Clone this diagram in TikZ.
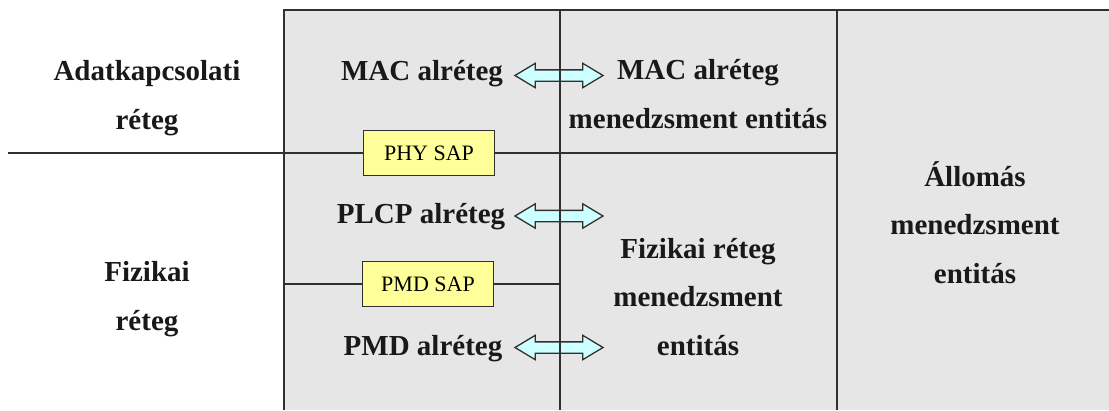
\documentclass[tikz,border=0pt]{standalone}
\usepackage{fontspec}
\setmainfont{Liberation Serif}
\usepackage{xcolor}
\usetikzlibrary{positioning,shapes.arrows}

\definecolor{cellgray}{HTML}{E6E6E6}
\definecolor{sapyellow}{HTML}{FFFF99}
\definecolor{arrowcyan}{HTML}{CCFFFF}
\definecolor{linegray}{HTML}{303030}

\begin{document}
\begin{tikzpicture}[
    x=1pt, y=-1pt,
    grid/.style={draw=linegray, line width=1.4pt},
    label/.style={align=center, anchor=base, text=black!90, font=\fontsize{29}{48.5}\selectfont\bfseries, inner sep=0pt},
    sapbox/.style={rectangle, draw=linegray, line width=1.6pt, fill=sapyellow, minimum width=131pt, minimum height=45pt, font=\fontsize{22}{24}\selectfont, inner sep=0pt},
    duplex/.style={double arrow, draw=linegray, line width=1.3pt, fill=arrowcyan, minimum height=88pt, inner xsep=0pt, inner ysep=5pt, double arrow head extend=6.5pt, double arrow tip angle=62}
]
\useasboundingbox (0,0) rectangle (1109,410);

% Shaded table
\fill[cellgray] (284,10) rectangle (1109,410);

% Layer names (base = last line)
\node[label] (datalink) at (147,129) {Adatkapcsolati\\réteg};
\node[label] (physical) at (147,330) {Fizikai\\réteg};

% Sublayers
\node[label] (mac) at (422,80) {MAC alréteg};
\node[label] (plcp) at (421,223) {PLCP alréteg};
\node[label] (pmd) at (423,355) {PMD alréteg};

% Management entities
\node[label] (macmgmt) at (698,128) {MAC alréteg\\menedzsment entitás};
\node[label] (phymgmt) at (698,355) {Fizikai réteg\\menedzsment\\entitás};
\node[label] (stamgmt) at (975,283) {Állomás\\menedzsment\\entitás};

% Sublayer <-> management arrows
\node[duplex] (macarrow) at (559,75.5) {};
\node[duplex] (plcparrow) at (559,216) {};
\node[duplex] (pmdarrow) at (559,347.5) {};

% Service access points
\node[sapbox] (physap) at (429,153) {PHY SAP};
\node[sapbox] (pmdsap) at (428,284) {PMD SAP};

% Table lines
\coordinate (topright) at (1109,10);
\coordinate (topleft) at (284,10);
\coordinate (botleft) at (284,410);
\coordinate (midtop) at (560,10);
\coordinate (midbot) at (560,410);
\coordinate (rtop) at (837,10);
\coordinate (rbot) at (837,410);
\coordinate (phyleft) at (8,153);
\coordinate (phyright) at (837,153);
\coordinate (pmdleft) at (284,284);
\coordinate (pmdright) at (560,284);

\draw[grid] (topright) -- (topleft) -- (botleft);
\draw[grid] (midtop) -- (midbot);
\draw[grid] (rtop) -- (rbot);
\draw[grid] (phyleft) -- (physap.west);
\draw[grid] (physap.east) -- (phyright);
\draw[grid] (pmdleft) -- (pmdsap.west);
\draw[grid] (pmdsap.east) -- (pmdright);

\end{tikzpicture}
\end{document}
